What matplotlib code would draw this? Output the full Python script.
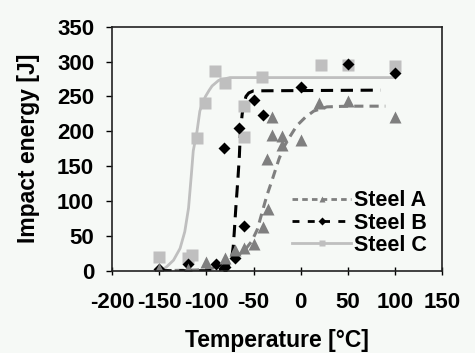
import matplotlib
matplotlib.use('Agg')
import matplotlib.pyplot as plt
from matplotlib.lines import Line2D

plt.rcParams['font.family'] = ['Liberation Sans', 'DejaVu Sans']
plt.rcParams['font.weight'] = 'bold'
plt.rcParams['axes.unicode_minus'] = False

# measured points (temperature in C, impact energy in J)
tA = [-150, -120, -100, -80, -70, -60, -50, -40, -35, -36, -30, -30, -20, -20, 0, 20, 50, 100]
eA = [3, 2, 12, 18, 30, 32, 38, 63, 88, 160, 220, 194, 193, 181, 188, 241, 244, 221]
tB = [-150, -120, -90, -80, -70, -60, -81, -65, -50, -40, 0, 50, 100]
eB = [2, 10, 9, 6, 18, 64, 176, 205, 245, 224, 264, 297, 283]
tC = [-150, -120, -115, -110, -101, -91, -80, -60, -60, -41, 22, 50, 100]
eC = [19, 18, 23, 191, 241, 287, 269, 236, 192, 278, 295, 295, 294]

# fitted transition curves
fitA_t = [-150, -110, -95, -85, -75, -68, -59, -52, -46, -41, -36, -30, -23, -18, -11, -4, 5, 14, 28, 50, 90]
fitA_e = [0, 1, 3, 7, 13, 20, 30, 42, 59, 83, 107, 131, 160, 177, 193, 208, 220, 229, 235, 236, 236]
fitB_t = [-150, -100, -88, -82, -78, -75, -73, -71.5, -70.5, -68.7, -66.6, -65, -64, -62, -60, -58, -55, -50, 85]
fitB_e = [0, 0, 1, 3, 6, 11, 20, 35, 54, 92, 131, 165, 198, 225, 240, 250, 255, 258, 259]
fitC_t = [-150, -147, -142, -135, -128, -123, -119, -116, -114, -110, -107, -104, -101, -97, -94, -87, -75, -50, 0, 50, 100]
fitC_e = [0, 1, 6, 15, 32, 56, 90, 138, 172, 200, 229, 241, 250, 259, 265, 273, 277, 277, 277, 277, 277]

colA = '#7f7f7f'
colB = '#000000'
colC = '#bfbfbf'

fig = plt.figure(figsize=(4.75, 3.53), dpi=100, facecolor='#f6f9f6')
ax = fig.add_axes([0.2364, 0.2331, 0.6937, 0.6913])
ax.set_facecolor('#f6f9f6')

ax.plot(fitC_t, fitC_e, color=colC, lw=2)
ax.plot(fitA_t, fitA_e, color=colA, lw=2.2, ls=(0, (3, 2)))
ax.plot(fitB_t, fitB_e, color=colB, lw=2.2, ls=(0, (4, 2.5)))
ax.plot(tC, eC, 's', color=colC, ms=8.5, mec='none')
ax.plot(tB, eB, 'D', color=colB, ms=6.5, mec='none')
ax.plot(tA, eA, '^', color=colA, ms=9, mec='none')

ax.set_xlim(-200, 150)
ax.set_ylim(0, 350)
ax.set_xticks(range(-200, 151, 50))
ax.set_yticks(range(0, 351, 50))
ax.tick_params(axis='x', direction='inout', length=6, width=1, pad=12, labelsize=16)
ax.tick_params(axis='y', direction='out', length=4, width=1, pad=9, labelsize=16)
for lab in ax.get_xticklabels() + ax.get_yticklabels():
    lab.set_fontweight('bold')
for s in ax.spines.values():
    s.set_linewidth(1.2)
    s.set_color('#222222')

ax.set_xlabel('Temperature [°C]', fontsize=16.5, fontweight='bold', labelpad=12)
ax.set_ylabel('Impact energy [J]', fontsize=16.5, fontweight='bold', labelpad=12)

hA = Line2D([], [], color=colA, lw=2, ls=(0, (2, 1.5)), marker='^', ms=5, mec='none')
hB = Line2D([], [], color=colB, lw=2, ls=(0, (2.5, 3)), marker='D', ms=4.5, mec='none')
hC = Line2D([], [], color=colC, lw=2, marker='s', ms=5, mec='none')
ax.legend([hA, hB, hC], ['Steel A', 'Steel B', 'Steel C'], loc='lower right',
          bbox_to_anchor=(1.0, 0.0), frameon=False, fontsize=15.5, numpoints=1,
          handlelength=2.7, handletextpad=0.15, labelspacing=0.05, borderaxespad=0.3)

fig.savefig('out.png', dpi=100, facecolor=fig.get_facecolor())
